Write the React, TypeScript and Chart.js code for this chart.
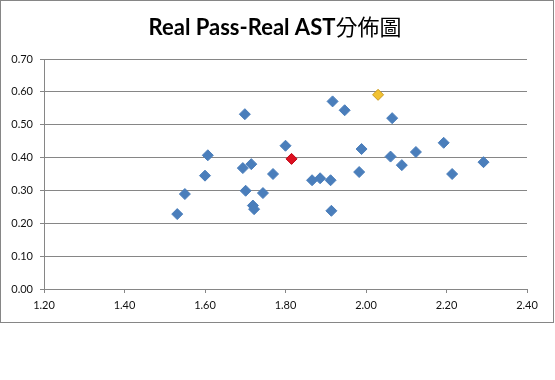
import React, { useEffect, useRef } from "react";
import { Chart, registerables } from "chart.js";

Chart.register(...registerables);

// ---- data ----
const TITLE_LATIN = "Real Pass-Real AST";
const TITLE_CJK = "分佈圖";

const blueX = [
  1.531, 1.55, 1.6, 1.607, 1.699, 1.694, 1.715, 1.701, 1.719, 1.722, 1.744, 1.769, 1.8,
  1.866, 1.886, 1.912, 1.914, 1.917, 1.947, 2.065, 1.989, 1.983, 2.061, 2.089, 2.124,
  2.193, 2.214, 2.292,
];
const blueY = [
  0.228, 0.289, 0.345, 0.407, 0.532, 0.368, 0.38, 0.299, 0.254, 0.243, 0.292, 0.35, 0.436,
  0.331, 0.337, 0.331, 0.238, 0.571, 0.544, 0.52, 0.426, 0.356, 0.403, 0.377, 0.417,
  0.445, 0.35, 0.386,
];
const redX = [1.815];
const redY = [0.396];
const yellowX = [2.03];
const yellowY = [0.591];

const xTicks = [1.2, 1.4, 1.6, 1.8, 2.0, 2.2, 2.4];
const yTicks = [0, 0.1, 0.2, 0.3, 0.4, 0.5, 0.6, 0.7];

const toPoints = (xs: number[], ys: number[]) => xs.map((x, i) => ({ x, y: ys[i] }));

const GRID = "#868686";

const titlePlugin = {
  id: "mixedTitle",
  afterDraw(chart: any) {
    const ctx = chart.ctx as CanvasRenderingContext2D;
    ctx.save();
    const f1 = 'bold 22px Lato, "Noto Sans", sans-serif';
    const f2 = '22px "Noto Sans CJK TC", sans-serif';
    ctx.font = f1;
    const w1 = ctx.measureText(TITLE_LATIN).width;
    ctx.font = f2;
    const w2 = ctx.measureText(TITLE_CJK).width;
    const start = 274 - (w1 + w2) / 2;
    ctx.fillStyle = "#000";
    ctx.textBaseline = "alphabetic";
    ctx.textAlign = "left";
    ctx.font = f1;
    ctx.fillText(TITLE_LATIN, start, 34);
    ctx.font = f2;
    ctx.fillText(TITLE_CJK, start + w1, 34);
    ctx.restore();
  },
};

export default function App() {
  const ref = useRef<HTMLCanvasElement | null>(null);

  useEffect(() => {
    if (!ref.current) return;
    const tickFont = { family: 'Lato, "Noto Sans", sans-serif', size: 11 };
    const chart = new Chart(ref.current, {
      type: "scatter",
      data: {
        datasets: [
          {
            data: toPoints(blueX, blueY),
            pointStyle: "rectRot",
            pointRadius: 5.5,
            backgroundColor: "#4A7EBB",
            borderColor: "#4A7EBB",
            borderWidth: 1,
          },
          {
            data: toPoints(redX, redY),
            pointStyle: "rectRot",
            pointRadius: 5.5,
            backgroundColor: "#DD1020",
            borderColor: "#C00010",
            borderWidth: 1,
          },
          {
            data: toPoints(yellowX, yellowY),
            pointStyle: "rectRot",
            pointRadius: 5.5,
            backgroundColor: "#F2C232",
            borderColor: "#C89A20",
            borderWidth: 1,
          },
        ],
      },
      options: {
        responsive: false,
        animation: false,
        devicePixelRatio: 1,
        layout: { padding: { left: 0, right: 26, top: 58, bottom: 0 } },
        plugins: {
          legend: { display: false },
          title: { display: false },
          tooltip: { enabled: false },
        },
        scales: {
          x: {
            type: "linear",
            min: 1.2,
            max: 2.4,
            afterBuildTicks: (s: any) => {
              s.ticks = xTicks.map((v) => ({ value: v }));
            },
            afterFit: (s: any) => {
              s.height = 33;
            },
            grid: {
              drawOnChartArea: false,
              drawTicks: true,
              tickLength: 4,
              color: GRID,
              lineWidth: 1,
            },
            border: { display: true, color: GRID, width: 1 },
            ticks: {
              font: tickFont,
              color: "#111",
              padding: 6,
              maxRotation: 0,
              autoSkip: false,
              callback: (v: any) => Number(v).toFixed(2),
            },
          },
          y: {
            type: "linear",
            min: 0,
            max: 0.7,
            afterBuildTicks: (s: any) => {
              s.ticks = yTicks.map((v) => ({ value: v }));
            },
            afterFit: (s: any) => {
              s.width = 43;
            },
            grid: {
              drawOnChartArea: true,
              drawTicks: true,
              tickLength: 4,
              color: GRID,
              lineWidth: 1,
            },
            border: { display: true, color: GRID, width: 1 },
            ticks: {
              font: tickFont,
              color: "#111",
              padding: 7,
              autoSkip: false,
              callback: (v: any) => Number(v).toFixed(2),
            },
          },
        },
      },
      plugins: [titlePlugin],
    } as any);
    return () => chart.destroy();
  }, []);

  return (
    <div
      style={{
        position: "absolute",
        left: 0,
        top: 0,
        width: 555,
        height: 380,
        background: "#fff",
      }}
    >
      <div
        style={{
          position: "absolute",
          left: 0,
          top: 0,
          width: 554,
          height: 323,
          boxSizing: "border-box",
          border: "1px solid #868686",
          background: "#fff",
        }}
      >
        <canvas ref={ref} width={552} height={321} style={{ display: "block" }} />
      </div>
    </div>
  );
}
